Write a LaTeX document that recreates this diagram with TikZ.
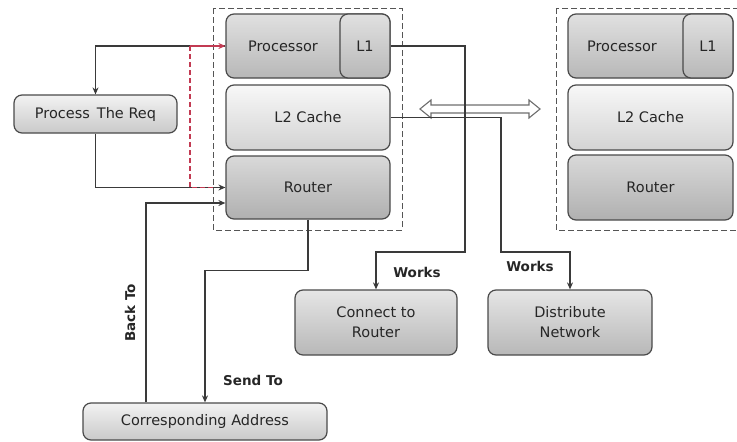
\documentclass[tikz,border=0pt]{standalone}
\usepackage{fontspec}
\setmainfont{DejaVu Sans}
\usetikzlibrary{arrows.meta}
\definecolor{edge}{HTML}{4A4A4A}
\definecolor{wire}{HTML}{3A3A3A}
\definecolor{frame}{HTML}{555555}
\definecolor{fbred}{HTML}{C23A52}
\tikzset{
  blk/.style={draw=edge, line width=1.2pt, rounded corners=8pt, inner sep=0pt,
    font=\fontsize{14.5}{20}\selectfont, text=black!85, align=center},
  procfill/.style={top color=white!88!black, bottom color=white!72!black},
  cachefill/.style={top color=white!97!black, bottom color=white!83!black},
  routfill/.style={top color=white!85!black, bottom color=white!69!black},
  taskfill/.style={top color=white!95!black, bottom color=white!79!black},
  outfill/.style={top color=white!90!black, bottom color=white!72!black},
  tile/.style={draw=frame, line width=1pt, dash pattern=on 6pt off 3pt},
  wireline/.style={draw=wire, line width=1.1pt},
  arr/.style={wireline, -{Stealth[length=7pt,width=6pt]}},
  tag/.style={font=\bfseries\fontsize{13.5}{16}\selectfont, text=black!85, inner sep=0pt},
  plain/.style={font=\fontsize{14.5}{20}\selectfont, text=black!85, inner sep=0pt}
}
\begin{document}
\begin{tikzpicture}[x=1pt,y=-1pt]
\useasboundingbox (0,0) rectangle (737,442);

% dashed tile outlines
\draw[tile] (213,8) rectangle (402,230);
\draw[tile] (556,8) rectangle (745,230);

% tile 1: processor, L1, L2 cache, router
\node[blk, procfill, minimum width=164pt, minimum height=64pt] (proc) at (308,46) {};
\node[blk, procfill, minimum width=50pt, minimum height=64pt] (l1) at (365,46) {L1};
\node[plain] (proctext) at (283,46) {Processor};
\node[blk, cachefill, minimum width=164pt, minimum height=65pt] (l2) at (308,117.5) {L2 Cache};
\node[blk, routfill, minimum width=164pt, minimum height=63pt] (router) at (308,187.5) {Router};

% tile 2
\node[blk, procfill, minimum width=165pt, minimum height=64pt] (proc2) at (650.5,46) {};
\node[blk, procfill, minimum width=50pt, minimum height=64pt] (l1b) at (708,46) {L1};
\node[plain] (proc2text) at (622,46) {Processor};
\node[blk, cachefill, minimum width=165pt, minimum height=65pt] (l2b) at (650.5,117.5) {L2 Cache};
\node[blk, routfill, minimum width=165pt, minimum height=65pt] (router2) at (650.5,187.5) {Router};

% side and output blocks
\node[blk, taskfill, minimum width=163pt, minimum height=38pt] (preq) at (95.5,114) {Process\, The Req};
\node[blk, taskfill, minimum width=244pt, minimum height=37pt] (addr) at (205,421.5) {Corresponding Address};
\node[blk, outfill, minimum width=162pt, minimum height=65pt] (conn) at (376,322.5) {Connect to\\Router};
\node[blk, outfill, minimum width=164pt, minimum height=65pt] (dist) at (570,322.5) {Distribute\\Network};

% hollow two-way link between the tiles
\filldraw[fill=white, draw=frame!85, line width=1.1pt]
  (420,109) -- (431,100) -- (431,105) -- (529,105) -- (529,100) -- (540,109)
  -- (529,118) -- (529,113) -- (431,113) -- (431,118) -- cycle;

% bend points
\coordinate (l1down) at (465,252);
\coordinate (l2down) at (501,252);
\coordinate (backup) at (146,203);
\coordinate (fbstart) at (213,187.5);
\coordinate (fbcorner) at (190,187.5);
\coordinate (fbtop) at (190,46);

% connectors
\draw[arr] (proc.west) -| (preq.north);
\draw[arr] (preq.south) |- (router.west);
\draw[arr] (addr.north -| backup) |- (router.west |- backup);
\draw[arr] (router.south) -- ++(0,51) -| (addr.north);
\draw[arr] (l1.east) -| (l1down) -| (conn.north);
\draw[arr] (l2.east) -| (l2down) -| (dist.north);

% feedback path from router to processor
\draw[fbred, line width=1.2pt, dash pattern=on 5pt off 3pt] (fbstart) -- (fbcorner) -- (fbtop);
\draw[fbred, line width=1.1pt, -{Stealth[length=7pt,width=6pt]}] (fbtop) -- (proc.west);

% connector labels
\node[tag] (works1) at (417,272) {Works};
\node[tag] (works2) at (530,266) {Works};
\node[tag] (sendto) at (253,380) {Send To};
\node[tag, rotate=90] (backto) at (130,313) {Back To};
\end{tikzpicture}
\end{document}
